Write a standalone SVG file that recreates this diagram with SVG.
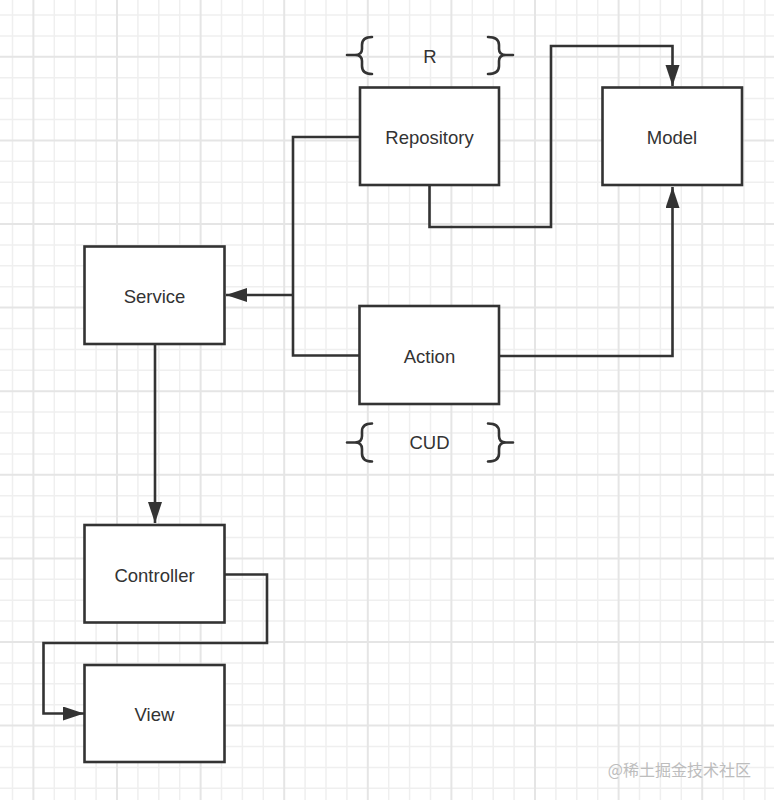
<svg xmlns="http://www.w3.org/2000/svg" width="774" height="800" viewBox="0 0 774 800">
<style>
.minor{stroke:#efefef;stroke-width:1.5;fill:none}
.major{stroke:#e5e5e5;stroke-width:2;fill:none}
.box{fill:#fff;stroke:#333;stroke-width:2.6}
.lbl{font-family:"Liberation Sans",Arial,sans-serif;font-size:18.5px;fill:#333;text-anchor:middle}
.conn{fill:none;stroke:#333;stroke-width:2.6;stroke-linejoin:miter}
.brace{fill:none;stroke:#333;stroke-width:2.6;stroke-linecap:round}
.wm{font-family:"Noto Sans CJK SC","Liberation Sans",sans-serif;font-size:16px;fill:#bdbdbd;text-anchor:end}
</style>
<defs>
<marker id="arr" markerUnits="userSpaceOnUse" markerWidth="24" markerHeight="16" refX="21" refY="7" orient="auto">
<path d="M0,0 L21,7 L0,14 Z" fill="#333"/>
</marker>
</defs>
<rect width="774" height="800" fill="#fff"/>
<g id="grid">
<path class="minor" d="M12.5,0V800M54.3,0V800M75.2,0V800M96.1,0V800M137.9,0V800M158.8,0V800M179.7,0V800M221.5,0V800M242.4,0V800M263.3,0V800M305.1,0V800M326,0V800M346.9,0V800M388.7,0V800M409.6,0V800M430.5,0V800M472.3,0V800M493.2,0V800M514.1,0V800M555.9,0V800M576.8,0V800M597.7,0V800M639.5,0V800M660.4,0V800M681.3,0V800M723.1,0V800M744,0V800M764.9,0V800
M0,15H774M0,35.9H774M0,77.7H774M0,98.6H774M0,119.5H774M0,161.3H774M0,182.2H774M0,203.1H774M0,244.9H774M0,265.8H774M0,286.7H774M0,328.5H774M0,349.4H774M0,370.3H774M0,412.1H774M0,433H774M0,453.9H774M0,495.7H774M0,516.6H774M0,537.5H774M0,579.3H774M0,600.2H774M0,621.1H774M0,662.9H774M0,683.8H774M0,704.7H774M0,746.5H774M0,767.4H774M0,788.3H774"/>
<path class="major" d="M33.4,0V800M117,0V800M200.6,0V800M284.2,0V800M367.8,0V800M451.4,0V800M535,0V800M618.6,0V800M702.2,0V800
M0,56.8H774M0,140.4H774M0,224H774M0,307.6H774M0,391.2H774M0,474.8H774M0,558.4H774M0,642H774M0,725.6H774"/>
</g>
<g id="connectors">
<path class="conn" d="M360,137 H293 V355.5 H360"/>
<path class="conn" d="M293,295 H226" marker-end="url(#arr)"/>
<path class="conn" d="M155,344 V523" marker-end="url(#arr)"/>
<path class="conn" d="M224,574.5 H267 V643 H43.5 V713.5 H84" marker-end="url(#arr)"/>
<path class="conn" d="M429.5,185 V227 H551 V46 H672.5 V86" marker-end="url(#arr)"/>
<path class="conn" d="M499,356 H672.5 V187" marker-end="url(#arr)"/>
</g>
<g id="repository">
<rect class="box" x="360" y="87.5" width="139" height="97.5"/>
<text class="lbl" x="429.5" y="144">Repository</text>
</g>
<g id="model">
<rect class="box" x="602.5" y="87.5" width="139.5" height="97.5"/>
<text class="lbl" x="672" y="144">Model</text>
</g>
<g id="service">
<rect class="box" x="84.5" y="246.5" width="140" height="97.5"/>
<text class="lbl" x="154.5" y="303">Service</text>
</g>
<g id="action">
<rect class="box" x="359.5" y="306" width="139.5" height="98"/>
<text class="lbl" x="429.5" y="363">Action</text>
</g>
<g id="controller">
<rect class="box" x="84.5" y="525" width="140" height="97.5"/>
<text class="lbl" x="154.5" y="581.5">Controller</text>
</g>
<g id="view">
<rect class="box" x="84.5" y="665" width="140" height="97"/>
<text class="lbl" x="154.5" y="720.5">View</text>
</g>
<g id="r-brace">
<path class="brace" d="M372,37 Q362,37 362,45 L362,49 Q362,55 355,55 L347,55 M355,55 Q362,55 362,61 L362,66 Q362,74 372,74"/>
<path class="brace" d="M488,37 Q499,37 499,45 L499,49 Q499,55 506,55 L513,55 M506,55 Q499,55 499,61 L499,66 Q499,74 488,74"/>
<text class="lbl" x="430" y="63">R</text>
</g>
<g id="cud-brace">
<path class="brace" d="M372,423.5 Q362,423.5 362,431.5 L362,436 Q362,442.5 355,442.5 L347,442.5 M355,442.5 Q362,442.5 362,449 L362,453.5 Q362,461.5 372,461.5"/>
<path class="brace" d="M488,423.5 Q499,423.5 499,431.5 L499,436 Q499,442.5 506,442.5 L513,442.5 M506,442.5 Q499,442.5 499,449 L499,453.5 Q499,461.5 488,461.5"/>
<text class="lbl" x="429.5" y="449">CUD</text>
</g>
<text class="wm" x="751" y="776">@稀土掘金技术社区</text>
</svg>
